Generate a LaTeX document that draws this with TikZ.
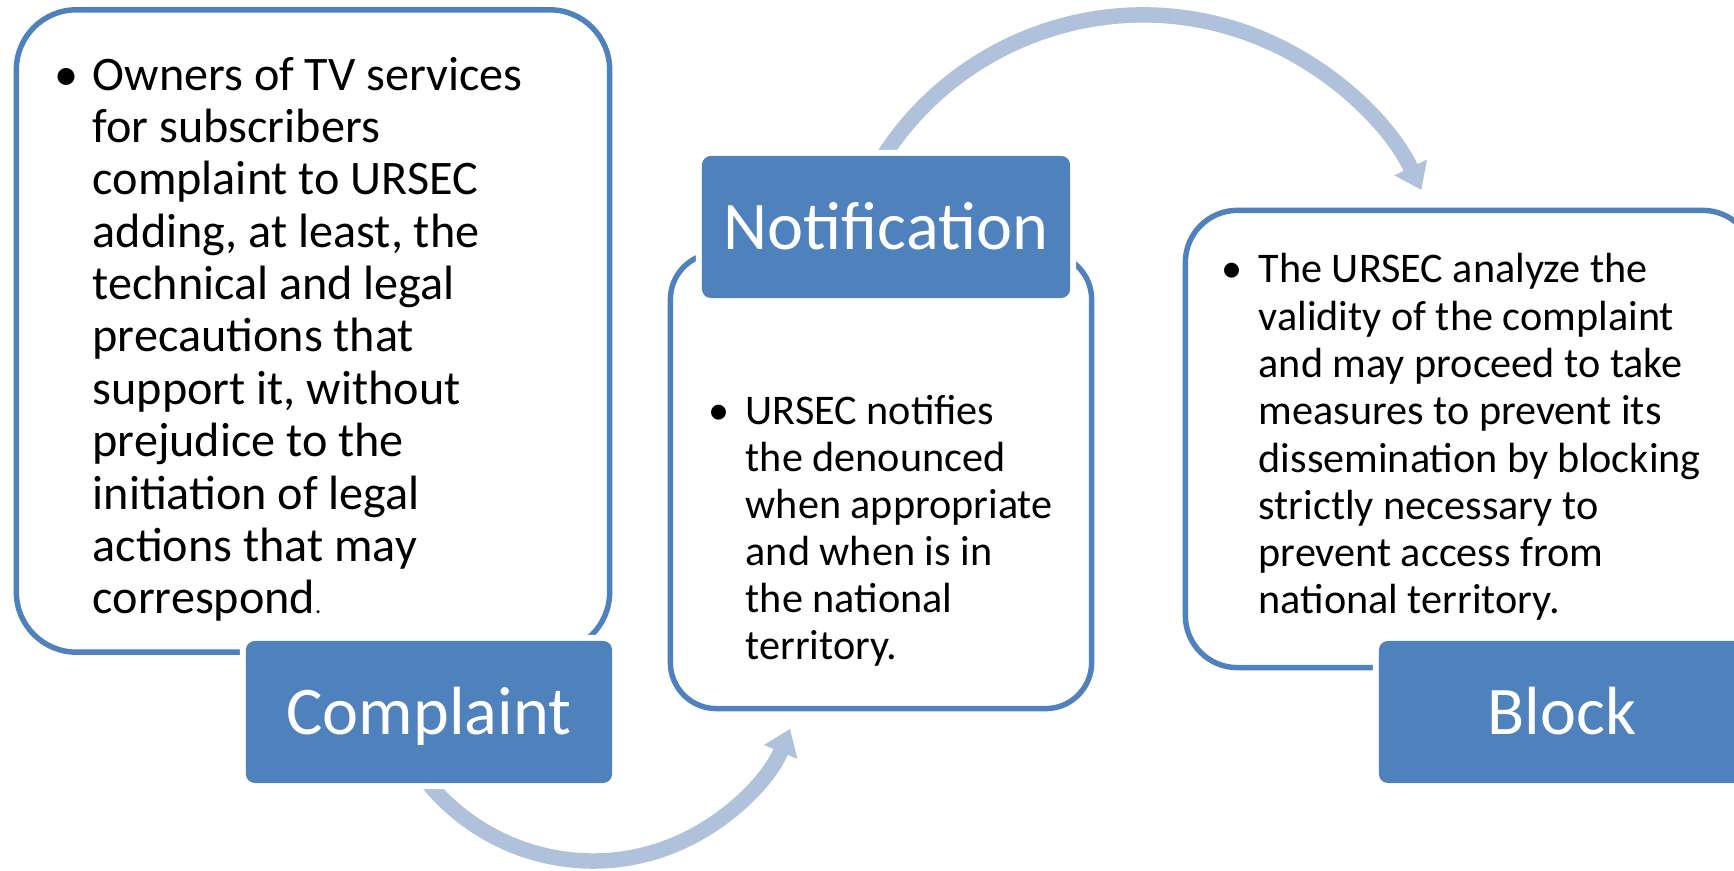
\documentclass[tikz,border=0pt]{standalone}
\usepackage{fontspec}
\setmainfont{Carlito}
\usetikzlibrary{arrows.meta}
\definecolor{ublue}{HTML}{4F81BD}
\definecolor{flow}{HTML}{B0C1DC}
% bullet hung in the left margin of a text block
\newcommand\itemdot{\llap{\textbullet\hspace{\dimexpr7.5pt-.25em\relax}}}
\begin{document}
\begin{tikzpicture}[x=0.01cm,y=0.01cm,
  panel/.style={draw=ublue, line width=1.55pt, fill=white, inner sep=0pt},
  tag/.style={fill=ublue, inner sep=0pt, minimum width=3.66cm, minimum height=1.42cm,
    rounded corners=0.09cm, text=white, font=\fontsize{19.4pt}{23pt}\selectfont,
    text height=14.55pt, text depth=1.95pt,
    preaction={draw=white, line width=3.4pt}},
  flowarrow/.style={draw=flow, line width=4.4pt, -{Triangle[length=7.1pt,width=9.8pt]}},
  % multi-line blocks are placed by the baseline of their last line
  body/.style={anchor=base west, align=left, inner sep=0pt}]
\fill[white] (0,0) rectangle (1734,871);
\useasboundingbox (0,0) rectangle (1734,871);
\clip (0,0) rectangle (1734,871);

% curved arrows between the stages
\coordinate (hub1) at (593,223);
\coordinate (hub2) at (1143,547);
\draw[flowarrow] ([shift={(205:213)}]hub1) arc[start angle=205, end angle=337.7, radius=213];
\draw[flowarrow] ([shift={(155:309)}]hub2) arc[start angle=155, end angle=25.7, radius=309];

% stage 1
\node[panel, rounded corners=0.6cm, minimum width=5.93cm, minimum height=6.42cm] (box1) at (313,540) {};
\node[body, font=\fontsize{13.7pt}{14.9pt}\selectfont] (txt1) at (92,257)
  {\itemdot Owners of TV services\\for subscribers\\complaint to URSEC\\adding, at least, the\\technical and legal\\precautions that\\support it, without\\prejudice to the\\initiation of legal\\actions that may\\correspond{\fontsize{7pt}{8pt}\selectfont.}};
\node[tag] (complaint) at (429,159) {Complaint};

% stage 2
\node[panel, rounded corners=0.46cm, minimum width=4.21cm, minimum height=4.55cm] (box2) at (881,390) {};
\node[body, font=\fontsize{12pt}{13.4pt}\selectfont] (txt2) at (745,211)
  {\itemdot URSEC notifies\\the denounced\\when appropriate\\and when is in\\the national\\territory.};
\node[tag, minimum width=3.68cm] (notification) at (886,644) {Notification};

% stage 3
\node[panel, rounded corners=0.52cm, minimum width=5.69cm, minimum height=4.57cm] (box3) at (1470,432) {};
\node[body, font=\fontsize{12pt}{13.45pt}\selectfont] (txt3) at (1258,257)
  {\itemdot The URSEC analyze the\\validity of the complaint\\and may proceed to take\\measures to prevent its\\dissemination by blocking\\strictly necessary to\\prevent access from\\national territory.};
\node[tag] (block) at (1562,159) {Block};
\end{tikzpicture}
\end{document}
